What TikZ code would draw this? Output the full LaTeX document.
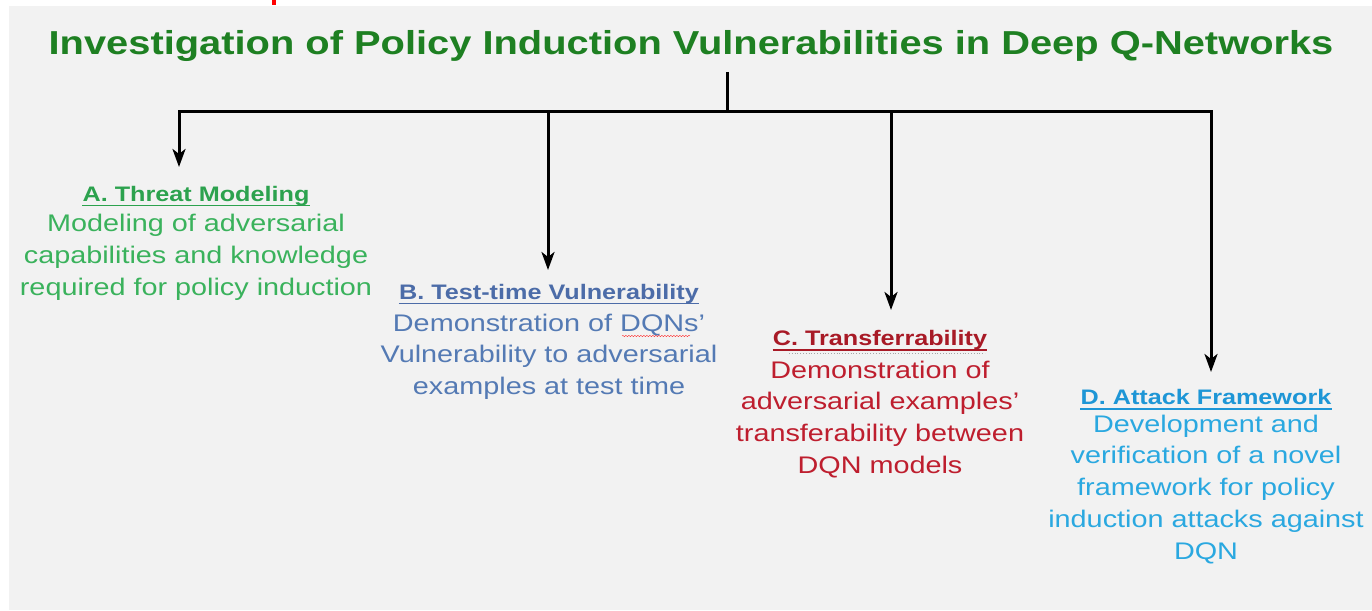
\documentclass[tikz,border=0pt]{standalone}
\usepackage{fontspec}
\setmainfont{Liberation Sans}[FakeStretch=1.2]
\usepackage{tikz}
\usetikzlibrary{arrows.meta,decorations.pathmorphing}
\definecolor{titlegreen}{RGB}{30,128,34}
\definecolor{threatgreen}{RGB}{58,178,92}
\definecolor{threathead}{RGB}{44,162,78}
\definecolor{testblue}{RGB}{84,122,180}
\definecolor{testhead}{RGB}{76,108,168}
\definecolor{transred}{RGB}{190,30,46}
\definecolor{transhead}{RGB}{168,26,38}
\definecolor{attackblue}{RGB}{42,168,224}
\definecolor{attackhead}{RGB}{30,150,214}
\definecolor{slidegray}{RGB}{242,242,242}
\tikzset{
  titletext/.style={font=\fontsize{33.2}{40}\selectfont\bfseries,text=titlegreen,
    inner sep=0pt,anchor=base},
  headtext/.style={font=\fontsize{21}{25}\selectfont\bfseries,inner sep=0pt,anchor=base},
  bodytext/.style={font=\fontsize{24}{31.8}\selectfont,align=center,inner sep=0pt,anchor=north},
  headrule/.style={line width=1.5pt},
  trunkline/.style={line width=3pt,draw=black},
  dropline/.style={line width=3pt,draw=black,-{Stealth[length=18pt,width=13pt,inset=5pt]}}
}

\begin{document}
\begin{tikzpicture}[x=1pt,y=1pt]
  \useasboundingbox (0,0) rectangle (1372,610);
  \fill[slidegray] (9,0) rectangle (1372,604);
  \fill[red] (272,605) rectangle (276,610);

  \node[titletext] (title) at (691,555)
    {Investigation of Policy Induction Vulnerabilities in Deep Q-Networks};

  \coordinate (stem) at (727,538);
  \coordinate (hub) at (727,498);
  \coordinate (tipA) at (179,443);
  \coordinate (tipB) at (548,340);
  \coordinate (tipC) at (891,300);
  \coordinate (tipD) at (1211,238);

  \draw[trunkline] (stem) -- (hub);
  \foreach \t in {A,B,C,D}
    \draw[dropline] (hub) -| (tip\t);

  % A
  \node[headtext,text=threathead] (headA) at (196,408.7) {A. Threat Modeling};
  \node[bodytext,text=threatgreen] (bodyA) at (196,396)
    {Modeling of adversarial\\capabilities and knowledge\\required for policy induction};

  % B
  \node[headtext,text=testhead] (headB) at (549,310.7) {B. Test-time Vulnerability};
  \node[bodytext,text=testblue] (bodyB) at (549,296.5)
    {Demonstration of DQNs'\\Vulnerability to adversarial\\examples at test time};
  \draw[red!80,decorate,decoration={snake,amplitude=0.7pt,segment length=3pt}]
    (622,274) -- (690,274);

  % C
  \node[headtext,text=transhead] (headC) at (880,264) {C. Transferrability};
  \draw[gray!70,dotted,line width=0.8pt] (789,256.5) -- (985,256.5);
  \node[bodytext,text=transred] (bodyC) at (880,249.5)
    {Demonstration of\\adversarial examples'\\transferability between\\DQN models};

  % D
  \node[headtext,text=attackhead] (headD) at (1206,205) {D. Attack Framework};
  \node[bodytext,text=attackblue] (bodyD) at (1206,195.5)
    {Development and\\verification of a novel\\framework for policy\\induction attacks against\\DQN};

  % underlines
  \foreach \t/\c in {A/threathead,B/testhead,C/transhead,D/attackhead}
    \draw[headrule,draw=\c] ([yshift=-4pt]head\t.base west) -- ([yshift=-4pt]head\t.base east);
\end{tikzpicture}
\end{document}
